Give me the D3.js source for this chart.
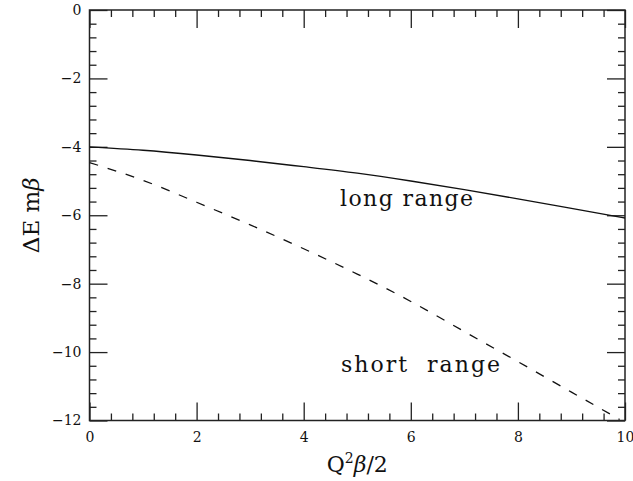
<!DOCTYPE html>
<html>
<head>
<meta charset="utf-8">
<script src="https://cdn.jsdelivr.net/npm/d3@7"></script>
<style>
  body { margin: 0; background: #fff; }
  text { font-family: "DejaVu Serif", "Liberation Serif", serif; fill: #111; }
</style>
</head>
<body>
<div id="chart"></div>
<script>
var w = 633;
var h = 481;

// values
var longX = [0, 1, 2, 3, 4, 5, 6, 7, 8, 9, 10];
var longRange = [-4.00, -4.10, -4.24, -4.40, -4.58, -4.77, -5.00, -5.25, -5.52, -5.80, -6.08];
var shortX = [0, 1, 2, 3, 4, 5, 6, 7, 8, 9, 9.9];
var shortRange = [-4.46, -4.98, -5.62, -6.28, -6.98, -7.72, -8.52, -9.40, -10.28, -11.17, -11.97];
var xMajor = [0, 2, 4, 6, 8, 10];
var yMajor = [0, -2, -4, -6, -8, -10, -12];
var minorStep = 0.4;

var svg = d3.select("#chart")
    .append("svg")
    .attr("width", w)
    .attr("height", h);

var margin = {top: 10, right: 8, bottom: 60.5, left: 89.5},
    width = w - margin.left - margin.right,
    height = h - margin.top - margin.bottom,
    g = svg.append("g").attr("transform", "translate(" + margin.left + "," + margin.top + ")");

var x = d3.scaleLinear().domain([0, 10]).range([0, width]);
var y = d3.scaleLinear().domain([-12, 0]).range([height, 0]);

var xMinor = d3.range(0, 10.001, minorStep).filter(function(d) { return Math.abs(d / 2 - Math.round(d / 2)) > 1e-6; });
var yMinor = d3.range(-12, 0.001, minorStep).filter(function(d) { return Math.abs(d / 2 - Math.round(d / 2)) > 1e-6; });

function fmt(d) { return d < 0 ? "\u2212" + (-d) : "" + d; }

function styleAxis(sel) {
  sel.select(".domain").remove();
  sel.selectAll("line").attr("stroke", "#222").attr("stroke-width", 1.3);
  sel.selectAll("text").style("font-size", "14px").attr("fill", "#111");
}

// bottom
g.append("g").attr("transform", "translate(0," + height + ")")
  .call(d3.axisBottom(x).tickValues(xMajor).tickSize(-18).tickPadding(12).tickFormat(fmt)).call(styleAxis);
g.append("g").attr("transform", "translate(0," + height + ")")
  .call(d3.axisBottom(x).tickValues(xMinor).tickSize(-7).tickFormat("")).call(styleAxis);
// top
g.append("g")
  .call(d3.axisTop(x).tickValues(xMajor).tickSize(-18).tickFormat("")).call(styleAxis);
g.append("g")
  .call(d3.axisTop(x).tickValues(xMinor).tickSize(-7).tickFormat("")).call(styleAxis);
// left
g.append("g")
  .call(d3.axisLeft(y).tickValues(yMajor).tickSize(-18).tickPadding(8).tickFormat(fmt)).call(styleAxis);
g.append("g")
  .call(d3.axisLeft(y).tickValues(yMinor).tickSize(-7).tickFormat("")).call(styleAxis);
// right
g.append("g").attr("transform", "translate(" + width + ",0)")
  .call(d3.axisRight(y).tickValues(yMajor).tickSize(-18).tickFormat("")).call(styleAxis);
g.append("g").attr("transform", "translate(" + width + ",0)")
  .call(d3.axisRight(y).tickValues(yMinor).tickSize(-7).tickFormat("")).call(styleAxis);

// frame
g.append("rect")
  .attr("width", width).attr("height", height)
  .attr("fill", "none").attr("stroke", "#222").attr("stroke-width", 1.5);

g.append("clipPath").attr("id", "clip")
  .append("rect").attr("width", width).attr("height", height);

var line = d3.line()
  .x(function(d) { return x(d[0]); })
  .y(function(d) { return y(d[1]); })
  .curve(d3.curveNatural);

g.append("path")
  .datum(d3.zip(longX, longRange))
  .attr("clip-path", "url(#clip)")
  .attr("fill", "none")
  .attr("stroke", "#111")
  .attr("stroke-width", 1.4)
  .attr("d", line);

g.append("path")
  .datum(d3.zip(shortX, shortRange))
  .attr("clip-path", "url(#clip)")
  .attr("fill", "none")
  .attr("stroke", "#111")
  .attr("stroke-width", 1.3)
  .attr("stroke-dasharray", "9,10")
  .attr("d", line);

// curve labels
g.append("text")
  .attr("x", 340 - margin.left).attr("y", 206 - margin.top)
  .attr("textLength", 133).attr("lengthAdjust", "spacing")
  .style("font-size", "22px")
  .text("long range");

g.append("text")
  .attr("x", 341 - margin.left).attr("y", 372 - margin.top)
  .attr("textLength", 159).attr("lengthAdjust", "spacing")
  .style("font-size", "22px")
  .style("white-space", "pre")
  .text("short  range");

// axis titles
var xt = svg.append("text")
  .attr("x", margin.left + width / 2).attr("y", 472)
  .attr("text-anchor", "middle")
  .style("font-size", "22px");
xt.append("tspan").text("Q");
xt.append("tspan").attr("dy", -9).style("font-size", "14px").text("2");
xt.append("tspan").attr("dy", 9).style("font-style", "italic").text("\u03b2");
xt.append("tspan").text("/2");

var yt = svg.append("text")
  .attr("transform", "translate(39," + (margin.top + height / 2) + ") rotate(-90)")
  .attr("text-anchor", "middle")
  .style("font-size", "23px");
yt.append("tspan").text("\u0394E m");
yt.append("tspan").style("font-style", "italic").text("\u03b2");
</script>
</body>
</html>
